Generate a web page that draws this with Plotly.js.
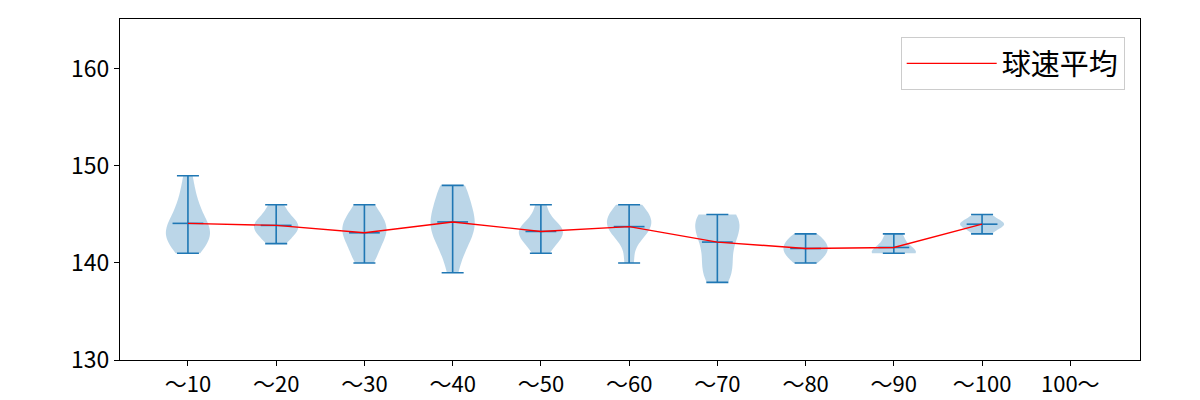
<!DOCTYPE html>
<html>
<head>
<meta charset="utf-8">
<script src="https://cdn.plot.ly/plotly-3.0.1.min.js"></script>
<style>html,body{margin:0;padding:0;background:#fff;}#chart{width:1200px;height:400px;}</style>
</head>
<body>
<div id="chart"></div>
<script>
// Categories (x tick labels)
const categories = ["～10","～20","～30","～40","～50","～60","～70","～80","～90","～100","100～"];
// Estimated pitch-speed samples (km/h) per category, read from the violin shapes
const s10  = [141,142,142,143,143,143,144,144,145,146,147,149];
const s20  = [142,143,143,144,144,144,145,146];
const s30  = [140,141,142,143,143,144,144,145,146];
const s40  = [139,141,142,143,143,144,144,145,145,146,147,148,148];
const s50  = [141,142,143,143,143,144,144,146];
const s60  = [140,143,143,144,144,145,145,146];
const s70  = [138,139,139,140,141,142,143,143,144,144,145,145,145];
const s80  = [140,141,141,142,142,143];
const s90  = [141,141,141,142,143];
const s100 = [143,144,144,144,145];
const samples = [s10,s20,s30,s40,s50,s60,s70,s80,s90,s100];
const legendName = "球速平均";

const blue = "#1f77b4";
const FONT = "Noto Sans CJK JP";
const positions = categories.map((c,i)=>i+1);

function mean(a){return a.reduce((s,v)=>s+v,0)/a.length;}
function stdev(a){const m=mean(a);return Math.sqrt(a.reduce((s,v)=>s+(v-m)*(v-m),0)/(a.length-1));}

const traces = [];
samples.forEach((arr,i)=>{
  traces.push({
    type:"violin",
    x: arr.map(()=>positions[i]),
    y: arr,
    width:0.5,
    spanmode:"hard",
    bandwidth: stdev(arr)*Math.pow(arr.length,-0.2),
    points:false,
    box:{visible:false},
    meanline:{visible:false},
    fillcolor:"rgba(31,119,180,0.3)",
    line:{width:0,color:"rgba(0,0,0,0)"},
    hoverinfo:"skip",
    showlegend:false,
    scalegroup:"g"+i
  });
});

const means = samples.map(mean);
const mins = samples.map(a=>Math.min(...a));
const maxs = samples.map(a=>Math.max(...a));
const xs = positions.slice(0,samples.length);

// extrema bars with caps, plus mean tick
traces.push({
  type:"scatter", mode:"markers",
  x: xs, y: means,
  marker:{symbol:"line-ew", size:22, line:{width:1.6,color:blue}, color:blue},
  error_y:{type:"data", symmetric:false,
    array: maxs.map((v,i)=>v-means[i]),
    arrayminus: means.map((v,i)=>v-mins[i]),
    color:blue, thickness:1.6, width:11},
  showlegend:false, hoverinfo:"skip"
});

// mean line
traces.push({
  type:"scatter", mode:"lines",
  x: xs, y: means,
  line:{color:"red", width:1.4},
  name: legendName
});

const layout = {
  width:1200, height:400,
  margin:{l:120, r:60, t:19, b:40},
  paper_bgcolor:"#fff", plot_bgcolor:"#fff",
  violinmode:"overlay",
  font:{family:FONT, color:"#000", size:22},
  xaxis:{
    range:[0.23,11.79],
    tickvals: positions, ticktext: categories,
    ticks:"outside", ticklen:5, tickwidth:1, tickcolor:"#000",
    showline:true, linecolor:"#000", linewidth:1, mirror:true,
    showgrid:false, zeroline:false,
    tickfont:{family:FONT, size:22}
  },
  yaxis:{
    range:[130,165.15],
    tickvals:[130,140,150,160],
    ticks:"outside", ticklen:5, tickwidth:1, tickcolor:"#000",
    showline:true, linecolor:"#000", linewidth:1, mirror:true,
    showgrid:false, zeroline:false,
    tickfont:{family:FONT, size:23}
  },
  legend:{
    x:0.985, xanchor:"right", y:0.947, yanchor:"top",
    bordercolor:"#cccccc", borderwidth:1, bgcolor:"rgba(255,255,255,0.8)",
    itemwidth:90,
    font:{family:FONT, size:29}
  },
  showlegend:true
};

Plotly.newPlot("chart", traces, layout, {staticPlot:true, displayModeBar:false});
</script>
</body>
</html>
